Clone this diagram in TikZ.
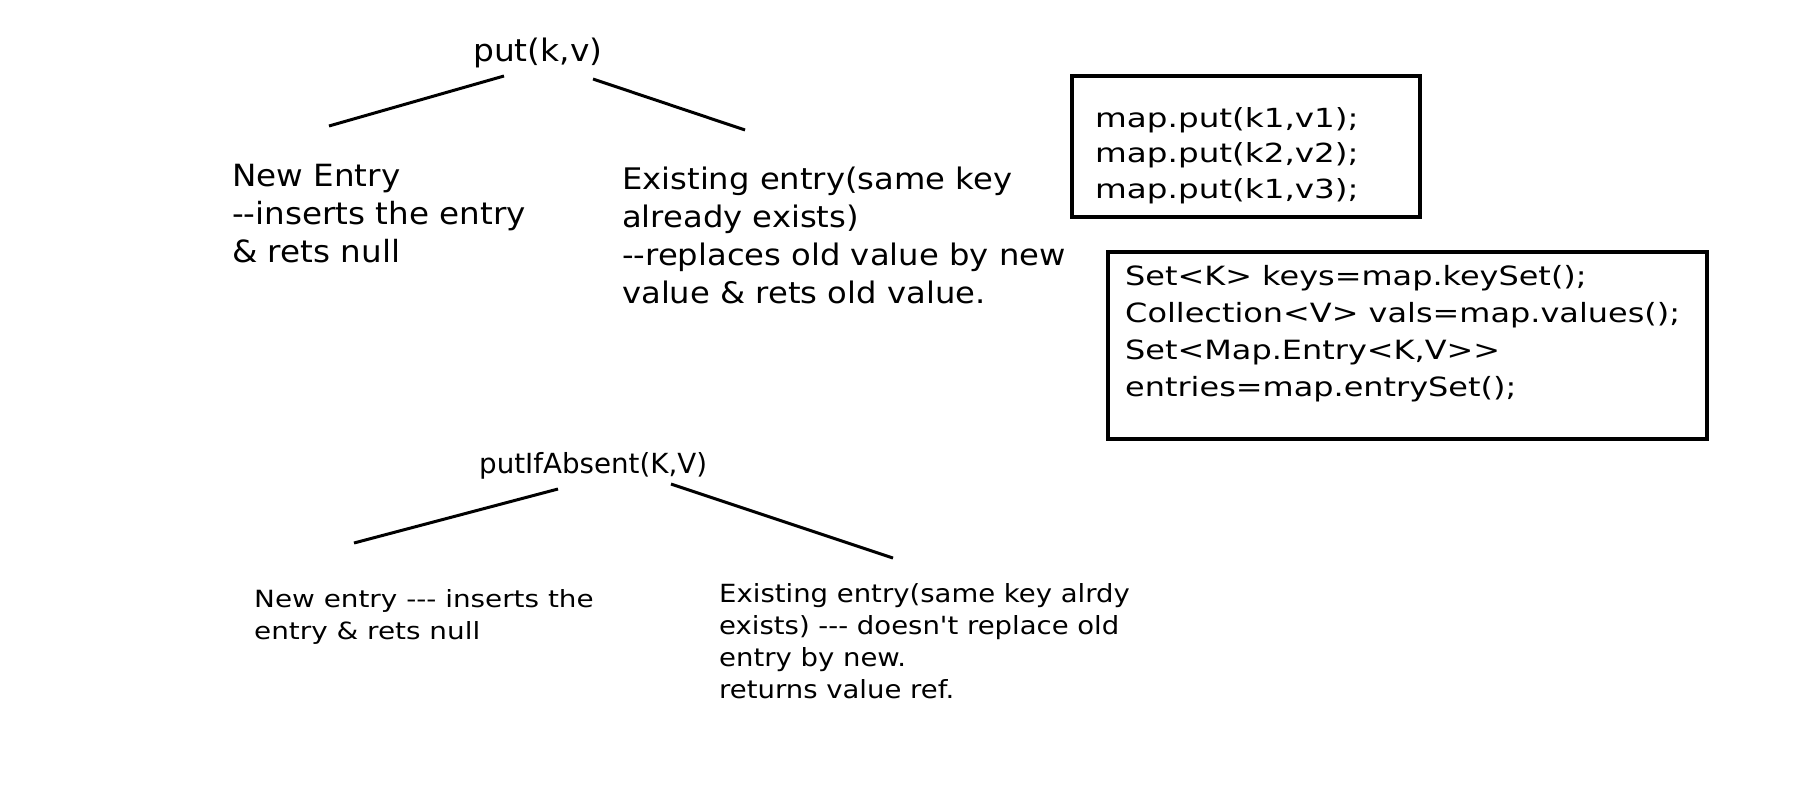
\documentclass[tikz,border=0pt]{standalone}
\usepackage{fontspec}
\newfontfamily\df{DejaVu Sans}
\newcommand\dfont[3]{\df\fontsize{#1}{#2}\selectfont\addfontfeatures{FakeStretch=#3}}
\begin{document}
\begin{tikzpicture}[x=1pt,y=-1pt,
  txt/.style={inner sep=0pt,anchor=base west,align=left},
  conn/.style={line width=3pt},
  codebox/.style={line width=3.3pt}]
\useasboundingbox (0,0) rectangle (1795,787);
% top tree (multi-line nodes are placed at the baseline of their last line)
\node[txt,font=\dfont{31}{38}{1.06}] (put) at (473,61) {put(k,v)};
\node[txt,font=\dfont{30.6}{38}{1.065}] (new1) at (232,262) {New Entry\\--inserts the entry\\\& rets null};
\node[txt,font=\dfont{29.7}{37.7}{1.085}] (ex1) at (622,303) {Existing entry(same key\\already exists)\\--replaces old value by new\\value \& rets old value.};
\coordinate (a1) at (504,76);
\coordinate (a2) at (329,126);
\coordinate (b1) at (593,79);
\coordinate (b2) at (745,130);
\draw[conn] (a1) -- (a2);
\draw[conn] (b1) -- (b2);
% code boxes
\draw[codebox] (1072,76) rectangle (1420,217);
\node[txt,font=\dfont{26.3}{35.5}{1.24}] (code1) at (1095,198) {map.put(k1,v1);\\map.put(k2,v2);\\map.put(k1,v3);};
\draw[codebox] (1108,252) rectangle (1707,439);
\node[txt,font=\dfont{26.5}{37}{1.205}] (code2) at (1125,396) {Set<K> keys=map.keySet();\\Collection<V> vals=map.values();\\Set<Map.Entry<K,V>>\\entries=map.entrySet();};
% bottom tree
\node[txt,font=\dfont{27.7}{36}{1.0}] (pia) at (479,473) {putIfAbsent(K,V)};
\node[txt,font=\dfont{23.7}{32}{1.175}] (new2) at (254,639) {New entry --- inserts the\\entry \& rets null};
\node[txt,font=\dfont{25}{31.7}{1.1}] (ex2) at (719,698) {Existing entry(same key alrdy\\exists) --- doesn't replace old\\entry by new.\\returns value ref.};
\coordinate (c1) at (558,489);
\coordinate (c2) at (354,543);
\coordinate (d1) at (671,484);
\coordinate (d2) at (893,558);
\draw[conn] (c1) -- (c2);
\draw[conn] (d1) -- (d2);
\end{tikzpicture}
\end{document}
